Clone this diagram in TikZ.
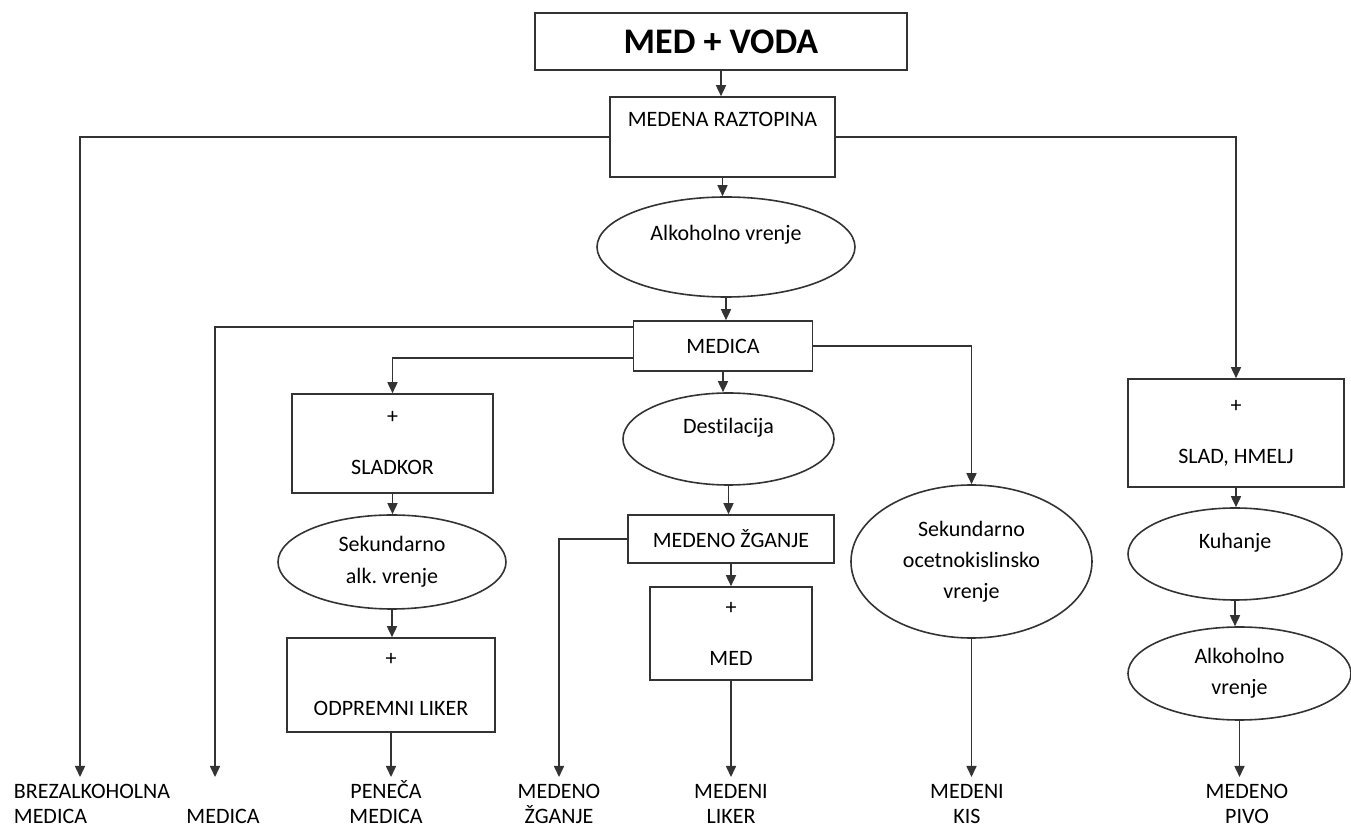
\documentclass[tikz,border=0pt]{standalone}
\usepackage{fontspec}
\setmainfont{Carlito}[Ligatures=NoCommon]
\usetikzlibrary{shapes.geometric}
\usetikzlibrary{arrows.meta}

\tikzset{
  flowbox/.style={draw=black!80, line width=.8pt, rectangle, inner sep=0pt, align=center, font=\fontsize{11}{15.5}\selectfont},
  flowoval/.style={draw=black!80, line width=.8pt, ellipse, inner sep=0pt, align=center, font=\fontsize{11}{15.5}\selectfont},
  product/.style={inner sep=0pt, anchor=base, align=center, font=\fontsize{11}{13}\selectfont},
  flow/.style={draw=black!80, line width=.8pt, -{Triangle[length=5.5pt,width=5pt]}},
}

\begin{document}
\frenchspacing
\begin{tikzpicture}[x=0.5pt,y=-0.5pt]
\useasboundingbox (0,0) rectangle (1351,828);
\node[flowbox, minimum width=186pt, minimum height=28.5pt, font=\fontsize{18}{20}\selectfont\bfseries] (top) at (721,41.5) {MED + VODA};
\node[flowbox, minimum width=112.5pt, minimum height=40pt, text height=7pt, text depth=17.7pt] (raz) at (722.5,137) {MEDENA RAZTOPINA};
\node[flowoval, minimum width=129pt, minimum height=50pt, text height=7pt, text depth=13.2pt] (alk1) at (726,247) {Alkoholno vrenje};
\node[flowbox, minimum width=89.5pt, minimum height=25pt] (medica) at (723,346) {MEDICA};
\node[flowbox, minimum width=100.5pt, minimum height=49.5pt] (sladkor) at (392.5,443.5) {+\\[10pt]SLADKOR};
\node[flowoval, minimum width=114pt, minimum height=47pt] (sekalk) at (392,562) {Sekundarno\\[.5pt]alk. vrenje};
\node[flowbox, minimum width=104pt, minimum height=47pt] (odp) at (391,685) {+\\[9.5pt]ODPREMNI LIKER};
\node[flowoval, minimum width=105.5pt, minimum height=46pt, text height=7pt, text depth=12.2pt] (dest) at (728.5,439) {Destilacija};
\node[flowbox, minimum width=103pt, minimum height=24pt] (zganje) at (731,539) {MEDENO ŽGANJE};
\node[flowbox, minimum width=81pt, minimum height=46.5pt] (med) at (731,633.5) {+\\[10pt]MED};
\node[flowoval, minimum width=120.5pt, minimum height=76.5pt] (ocet) at (971.5,561.5) {Sekundarno\\ocetnokislinsko\\vrenje};
\node[flowbox, minimum width=108pt, minimum height=54pt] (slad) at (1236,433) {+\\[10pt]SLAD, HMELJ};
\node[flowoval, minimum width=107pt, minimum height=46pt, text height=7pt, text depth=12.2pt] (kuh) at (1235,554) {Kuhanje};
\node[flowoval, minimum width=111.5pt, minimum height=46.5pt] (alk2) at (1239.5,673.5) {Alkoholno\\vrenje};

\node[product, align=left] (brez) at (92,824) {BREZALKOHOLNA\\MEDICA};
\node[product] (med2) at (223,824) {MEDICA};
\node[product] (pen) at (386,824) {PENEČA\\MEDICA};
\node[product] (zgl) at (559,824) {MEDENO\\ŽGANJE};
\node[product] (lik) at (731,824) {MEDENI\\LIKER};
\node[product] (kis) at (967,824) {MEDENI\\KIS};
\node[product] (pivo) at (1247,824) {MEDENO\\PIVO};

\draw[flow] (top.south) -- (top.south |- raz.north);
\draw[flow] (raz.south) -- (raz.south |- alk1.north);
\draw[flow] (alk1.south) -- (alk1.south |- medica.north);
\draw[flow] (medica.south) -- (medica.south |- dest.north);
\draw[flow] (dest.south) -- (dest.south |- zganje.north);
\draw[flow] (zganje.south) -- (zganje.south |- med.north);
\draw[flow] (med.south) -- ([yshift=23.5pt]med.south |- lik.base);
\draw[flow] (raz.west) -| ([xshift=-6pt,yshift=23.5pt]brez.base);
\draw[flow] (raz.east) -| (slad.north);
\draw[flow] ([yshift=9.5pt]medica.west) -| ([xshift=-4pt,yshift=23.5pt]med2.base);
\draw[flow] ([yshift=-6pt]medica.west) -| (sladkor.north);
\draw[flow] (medica.east) -| (ocet.north);
\draw[flow] (sladkor.south) -- (sladkor.south |- sekalk.north);
\draw[flow] (sekalk.south) -- (sekalk.south |- odp.north);
\draw[flow] (odp.south) -- ([yshift=23.5pt]odp.south |- pen.base);
\draw[flow] (zganje.west) -| ([yshift=23.5pt]zgl.base);
\draw[flow] (ocet.south) -- ([yshift=23.5pt]ocet.south |- kis.base);
\draw[flow] (slad.south) -- (slad.south |- kuh.north);
\draw[flow] (kuh.south) -- (kuh.south |- alk2.north);
\draw[flow] (alk2.south) -- ([yshift=23.5pt]alk2.south |- pivo.base);
\end{tikzpicture}
\end{document}
